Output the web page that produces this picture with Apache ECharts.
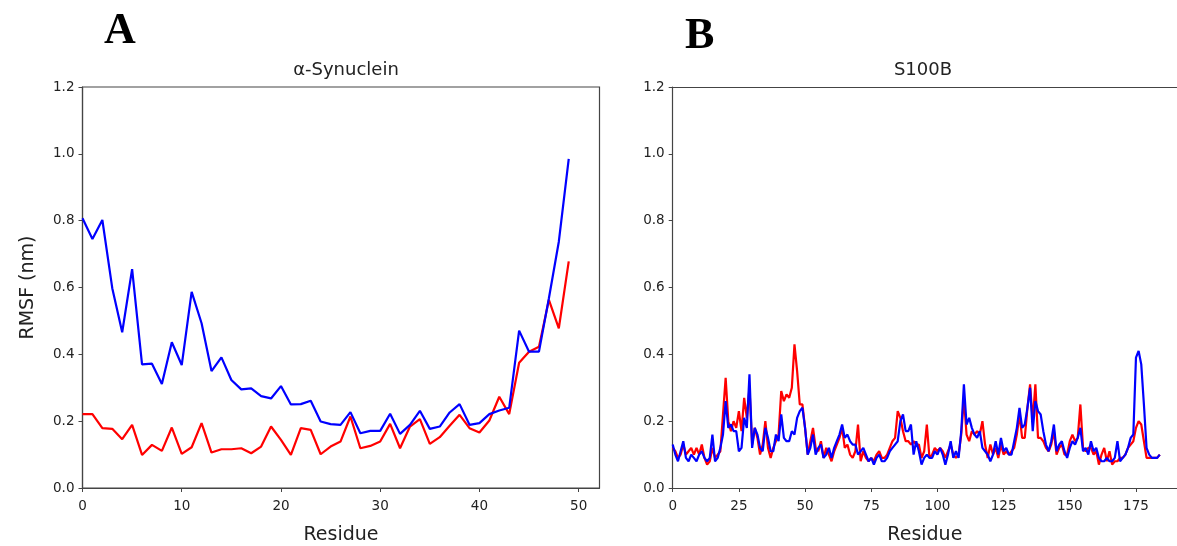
<!DOCTYPE html>
<html>
<head>
<meta charset="utf-8">
<script src="https://cdn.jsdelivr.net/npm/echarts@6/dist/echarts.min.js"></script>
<style>
html,body{margin:0;padding:0;background:#fff;}
#chart{width:1177px;height:546px;}
</style>
</head>
<body>
<div id="chart"></div>
<script>
// Panel A: alpha-Synuclein RMSF (nm) per residue
const synResidues = Array.from({length: 50}, (_, i) => i);
const synRed = [0.221,0.221,0.179,0.177,0.146,0.189,0.099,0.129,0.111,0.181,0.102,0.122,0.194,0.106,0.116,0.116,0.119,0.104,0.124,0.184,0.144,0.099,0.179,0.174,0.101,0.124,0.139,0.214,0.119,0.126,0.139,0.192,0.119,0.184,0.206,0.132,0.152,0.186,0.219,0.179,0.166,0.202,0.273,0.221,0.375,0.408,0.423,0.563,0.478,0.678];
const synBlue = [0.807,0.745,0.802,0.598,0.466,0.655,0.370,0.372,0.311,0.436,0.368,0.587,0.493,0.350,0.391,0.323,0.295,0.298,0.275,0.268,0.305,0.250,0.251,0.261,0.199,0.191,0.189,0.227,0.164,0.171,0.171,0.222,0.162,0.189,0.231,0.177,0.184,0.226,0.251,0.189,0.194,0.221,0.232,0.240,0.471,0.408,0.408,0.568,0.737,0.985];

// Panel B: S100B RMSF (nm) per residue
const s100Residues = Array.from({length: 185}, (_, i) => i);
const s100Blue = [0.13,0.10,0.08,0.11,0.14,0.09,0.08,0.10,0.09,0.08,0.10,0.11,0.09,0.08,0.09,0.16,0.08,0.09,0.12,0.16,
0.26,0.18,0.19,0.17,0.17,0.11,0.12,0.21,0.18,0.34,0.12,0.18,0.16,0.12,0.11,0.18,0.15,0.11,0.11,0.16,
0.14,0.22,0.15,0.14,0.14,0.17,0.16,0.21,0.23,0.24,0.18,0.10,0.12,0.16,0.10,0.12,0.13,0.09,0.10,0.12,
0.09,0.12,0.14,0.16,0.19,0.15,0.16,0.14,0.13,0.13,0.10,0.11,0.12,0.10,0.08,0.09,0.07,0.09,0.10,0.08,
0.08,0.09,0.11,0.12,0.13,0.14,0.20,0.22,0.17,0.17,0.19,0.10,0.14,0.11,0.07,0.09,0.10,0.09,0.09,0.11,
0.10,0.12,0.10,0.07,0.10,0.14,0.09,0.11,0.09,0.17,0.31,0.19,0.21,0.18,0.16,0.15,0.17,0.12,0.11,0.10,
0.08,0.10,0.14,0.10,0.15,0.11,0.12,0.10,0.10,0.14,0.18,0.24,0.18,0.19,0.24,0.30,0.17,0.26,0.23,0.22,
0.17,0.13,0.11,0.14,0.19,0.11,0.13,0.14,0.11,0.09,0.12,0.14,0.13,0.15,0.18,0.11,0.12,0.10,0.14,0.11,
0.12,0.09,0.08,0.08,0.09,0.08,0.08,0.09,0.14,0.08,0.09,0.10,0.12,0.15,0.16,0.39,0.41,0.37,0.25,0.12,
0.10,0.09,0.09,0.09,0.10];
const s100Red = [0.12,0.11,0.09,0.10,0.13,0.10,0.11,0.12,0.10,0.12,0.10,0.13,0.09,0.07,0.08,0.12,0.09,0.10,0.11,0.22,
0.33,0.20,0.17,0.20,0.18,0.23,0.17,0.27,0.21,0.30,0.13,0.18,0.15,0.10,0.13,0.20,0.12,0.09,0.12,0.14,
0.16,0.29,0.26,0.28,0.27,0.30,0.43,0.35,0.25,0.25,0.18,0.10,0.14,0.18,0.12,0.11,0.14,0.09,0.12,0.10,
0.08,0.11,0.13,0.15,0.18,0.12,0.13,0.10,0.09,0.11,0.19,0.08,0.11,0.09,0.08,0.09,0.08,0.10,0.11,0.09,
0.09,0.10,0.12,0.14,0.15,0.23,0.21,0.17,0.14,0.14,0.13,0.14,0.13,0.13,0.09,0.11,0.19,0.09,0.10,0.12,
0.11,0.12,0.11,0.09,0.11,0.13,0.10,0.09,0.10,0.16,0.27,0.16,0.14,0.17,0.16,0.17,0.16,0.20,0.13,0.09,
0.13,0.10,0.12,0.09,0.13,0.10,0.11,0.10,0.11,0.12,0.16,0.22,0.15,0.15,0.24,0.31,0.20,0.31,0.15,0.15,
0.14,0.12,0.11,0.13,0.17,0.10,0.12,0.13,0.10,0.10,0.14,0.16,0.14,0.15,0.25,0.12,0.11,0.12,0.12,0.10,
0.11,0.07,0.10,0.12,0.08,0.11,0.07,0.08,0.08,0.09,0.09,0.10,0.12,0.13,0.14,0.18,0.20,0.19,0.14,0.09,
0.09,0.09,0.09,0.09,0.10];

const yTicks = ['0.0','0.2','0.4','0.6','0.8','1.0','1.2'];
const panelTitles = ['α-Synuclein', 'S100B'];
const panelLetters = ['A', 'B'];
const xName = 'Residue';
const yName = 'RMSF (nm)';

const txt = '#222';
const spine = '#444';
const font = 'DejaVu Sans';
const pair = (xs, ys) => xs.map((x, i) => [x, ys[i]]);

function xAxisCfg(idx, max, interval) {
  return {
    type: 'value', gridIndex: idx, min: 0, max: max, interval: interval,
    name: xName, nameLocation: 'middle', nameGap: 38,
    nameTextStyle: {fontSize: 19, color: txt, fontFamily: font},
    axisLine: {show: true, onZero: false, lineStyle: {color: spine, width: 1.2}},
    axisTick: {show: true, inside: false, length: 4, lineStyle: {color: spine}},
    axisLabel: {fontSize: 13.5, color: txt, fontFamily: font, margin: 11,
      showMaxLabel: false},
    splitLine: {show: false}
  };
}
function topSpine(idx, max) {
  return {
    type: 'value', gridIndex: idx, position: 'top', min: 0, max: max,
    axisLine: {show: true, onZero: false, lineStyle: {color: spine, width: 1.2}},
    axisTick: {show: false}, axisLabel: {show: false}, splitLine: {show: false}
  };
}
function yAxisCfg(idx, withName) {
  return {
    type: 'value', gridIndex: idx, min: 0, max: 1.2, interval: 0.2,
    name: withName ? yName : '', nameLocation: 'middle', nameGap: 45,
    nameTextStyle: {fontSize: 19, color: txt, fontFamily: font},
    axisLine: {show: true, onZero: false, lineStyle: {color: spine, width: 1.2}},
    axisTick: {show: true, inside: false, length: 4, lineStyle: {color: spine}},
    axisLabel: {fontSize: 13.5, color: txt, fontFamily: font, margin: 8,
      formatter: v => yTicks[Math.round(v / 0.2)]},
    splitLine: {show: false}
  };
}
function lineSeries(xi, yi, data, color) {
  return {type: 'line', xAxisIndex: xi, yAxisIndex: yi, data: data, showSymbol: false,
    symbol: 'none', lineStyle: {color: color, width: 2.2}, itemStyle: {color: color}, animation: false};
}

const chart = echarts.init(document.getElementById('chart'), null, {renderer: 'canvas'});
chart.setOption({
  backgroundColor: '#fff',
  animation: false,
  title: [
    {text: panelTitles[0], left: 341, top: 56, textAlign: 'center',
      textStyle: {fontSize: 18, fontWeight: 'normal', color: txt, fontFamily: font}},
    {text: panelTitles[1], left: 918, top: 56, textAlign: 'center',
      textStyle: {fontSize: 18, fontWeight: 'normal', color: txt, fontFamily: font}}
  ],
  graphic: [
    {type: 'text', left: 104, top: 10, style: {text: panelLetters[0], fontSize: 44, fontWeight: 'bold', fontFamily: 'Liberation Serif', fill: '#000'}},
    {type: 'text', left: 685, top: 15, style: {text: panelLetters[1], fontSize: 44, fontWeight: 'bold', fontFamily: 'Liberation Serif', fill: '#000'}}
  ],
  grid: [
    {left: 82.5, top: 87, width: 517, height: 401, show: true, borderColor: spine, borderWidth: 1.2,
      containLabel: false, outerBoundsMode: 'none'},
    {left: 672.7, top: 87, width: 504.3, height: 401, show: false,
      containLabel: false, outerBoundsMode: 'none'}
  ],
  xAxis: [xAxisCfg(0, 52.1, 10), xAxisCfg(1, 190.5, 25), topSpine(1, 190.5)],
  yAxis: [yAxisCfg(0, true), yAxisCfg(1, false)],
  series: [
    lineSeries(0, 0, pair(synResidues, synRed), '#ff0000'),
    lineSeries(0, 0, pair(synResidues, synBlue), '#0000ff'),
    lineSeries(1, 1, pair(s100Residues, s100Red), '#ff0000'),
    lineSeries(1, 1, pair(s100Residues, s100Blue), '#0000ff')
  ]
});
</script>
</body>
</html>
